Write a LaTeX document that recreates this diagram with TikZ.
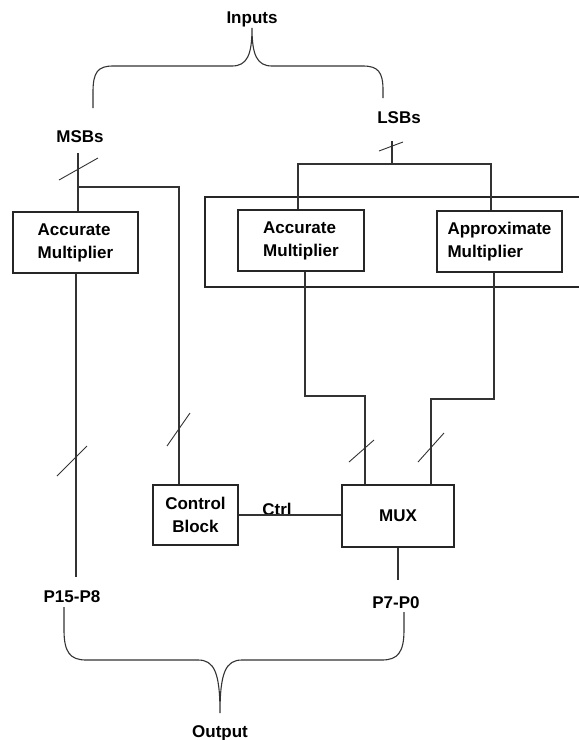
\documentclass[tikz,border=0pt]{standalone}
\usepackage{fontspec}
\setmainfont{Liberation Sans}
\begin{document}
\begin{tikzpicture}[x=1pt,y=-1pt,
  ln/.style={draw=black!80,line width=1.1pt},
  blk/.style={draw=black!85,line width=1.1pt,rectangle,inner sep=0pt,anchor=center},
  lbl/.style={inner sep=0pt,anchor=center},
  bus/.style={draw=black!80,line width=0.9pt},
  every node/.style={font=\fontsize{17}{23}\selectfont\bfseries}
]
\useasboundingbox (0,0) rectangle (579,740);
\begin{scope}
\clip (0,0) rectangle (579,740);
% outer frame (extends past right edge)
\node[blk,minimum width=400pt,minimum height=90pt] (outer) at (405,242) {};
\end{scope}
% boxes
\node[blk,minimum width=125pt,minimum height=61pt,align=left] (accL) at (75.5,242.5) {Accurate\\Multiplier};
\node[blk,minimum width=126pt,minimum height=61pt,align=left] (accR) at (301,240.5) {Accurate\\Multiplier};
\node[blk,minimum width=125pt,minimum height=61pt,align=left] (approx) at (499.5,241.5) {Approximate\\Multiplier};
\node[blk,minimum width=85pt,minimum height=60pt,align=center] (ctrl) at (195.5,515) {Control\\Block};
\node[blk,minimum width=112pt,minimum height=62pt] (mux) at (398,516) {MUX};
% labels
\node[lbl] (inputs) at (252,19) {Inputs};
\node[lbl] (msbs) at (80,137) {MSBs};
\node[lbl] (lsbs) at (399,118) {LSBs};
\node[lbl] (ctrllbl) at (277,509) {Ctrl};
\node[lbl] (phi) at (72,597) {P15-P8};
\node[lbl] (plo) at (396,603) {P7-P0};
\node[lbl] (output) at (220,733) {Output};
% coordinates
\coordinate (m1) at (78,153);
\coordinate (mb) at (78,187);
\coordinate (cx) at (179,187);
\coordinate (l1) at (392,141);
\coordinate (lb) at (392,164);
\coordinate (lL) at (298,164);
\coordinate (lR) at (491,164);
\coordinate (hiEnd) at (76,577);
\coordinate (loEnd) at (398,580);
\coordinate (aR1) at (305,396);
\coordinate (aR2) at (365,396);
\coordinate (ap1) at (494,399);
\coordinate (ap2) at (431,399);
% MSB path
\draw[ln] (m1) -- (m1 |- accL.north);
\draw[ln] (mb) -- (cx) -- (cx |- ctrl.north);
\draw[ln] (accL.south -| hiEnd) -- (hiEnd);
% LSB path
\draw[ln] (l1) -- (lb);
\draw[ln] (lL |- accR.north) -- (lL) -- (lR) -- (lR |- approx.north);
% to MUX
\draw[ln] (aR1 |- accR.south) -- (aR1) -- (aR2) -- (aR2 |- mux.north);
\draw[ln] (ap1 |- approx.south) -- (ap1) -- (ap2) -- (ap2 |- mux.north);
\draw[ln] (ctrl.east) -- (ctrl.east -| mux.west);
\draw[ln] (mux.south -| loEnd) -- (loEnd);
% bus slashes
\draw[bus] (59,180) -- (98,158);
\draw[bus] (379,151) -- (403,142);
\draw[bus] (57,476) -- (87,446);
\draw[bus] (167,446) -- (190,413);
\draw[bus] (349,462) -- (374,440);
\draw[bus] (418,462) -- (444,433);
% braces
\draw[ln] (93,108) -- (93,92) .. controls (93,72) and (98,66) .. (113,66) -- (232,66)
  .. controls (247,66) and (252,55) .. (252,28)
  .. controls (252,55) and (257,66) .. (272,66) -- (363,66)
  .. controls (378,66) and (383,72) .. (383,90) -- (383,98);
\draw[ln] (64,607) -- (64,630) .. controls (64,652) and (70,660) .. (86,660) -- (198,660)
  .. controls (214,660) and (220,672) .. (220,713)
  .. controls (220,672) and (226,660) .. (242,660) -- (382,660)
  .. controls (398,660) and (404,652) .. (404,630) -- (404,612);
\end{tikzpicture}
\end{document}
